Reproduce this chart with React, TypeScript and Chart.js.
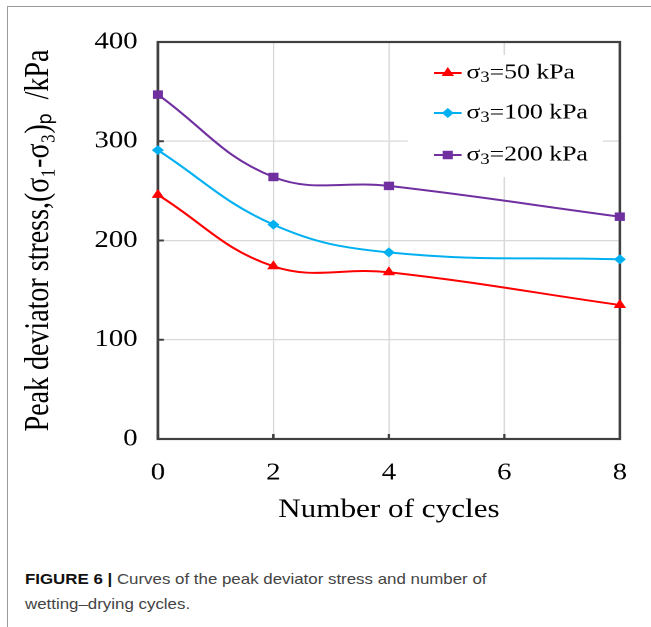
import React, { useEffect, useRef } from 'react';
import { Chart, registerables } from 'chart.js';

Chart.register(...registerables);

// ---- data ----
const cycles = [0, 2, 4, 8];
const confiningPressures = [50, 100, 200];
const stress50 = [246, 174, 168, 135];
const stress100 = [291, 216, 188, 181];
const stress200 = [347, 264, 255, 224];
const xTickValues = [0, 2, 4, 6, 8];
const yTickValues = [0, 100, 200, 300, 400];
const xTitle = 'Number of cycles';
const yTitle = 'Peak deviator stress,(σ₁-σ₃)ₚ  /kPa';
const captionBold = 'FIGURE 6 |';
const captionText = ' Curves of the peak deviator stress and number of wetting–drying cycles.';

// ---- styles ----
const seriesColors = ['#FF0000', '#00B0F0', '#7030A0'];
const seriesPointStyles = ['triangle', 'rectRot', 'rect'];
const seriesPointRadius = [6, 5, 6];
const SERIF = "'Liberation Serif', 'Times New Roman', serif";
const PAGE_W = 651;
const LOGICAL_W = 543;
const SX = PAGE_W / LOGICAL_W;
const CANVAS_H = 545;

const seriesValues = [stress50, stress100, stress200];

function drawMarker(ctx: CanvasRenderingContext2D, style: string, x: number, y: number, r: number, color: string) {
  ctx.save();
  ctx.fillStyle = color;
  ctx.beginPath();
  if (style === 'triangle') {
    ctx.moveTo(x, y - r);
    ctx.lineTo(x + r * 0.866, y + r * 0.5);
    ctx.lineTo(x - r * 0.866, y + r * 0.5);
    ctx.closePath();
  } else if (style === 'rectRot') {
    ctx.moveTo(x, y - r);
    ctx.lineTo(x + r, y);
    ctx.lineTo(x, y + r);
    ctx.lineTo(x - r, y);
    ctx.closePath();
  } else {
    const s = r * Math.SQRT1_2;
    ctx.rect(x - s, y - s, 2 * s, 2 * s);
  }
  ctx.fill();
  ctx.restore();
}

const framePlugin = {
  id: 'frame',
  beforeDatasetsDraw(chart: any) {
    const { ctx, chartArea } = chart;
    const { left, right, top, bottom } = chartArea;
    ctx.save();
    ctx.strokeStyle = '#404040';
    ctx.lineWidth = 2.2;
    ctx.strokeRect(left, top, right - left, bottom - top);
    ctx.lineWidth = 2;
    const ys = chart.scales.y;
    const xs = chart.scales.x;
    yTickValues.forEach((v) => {
      const py = ys.getPixelForValue(v);
      ctx.beginPath();
      ctx.moveTo(left, py);
      ctx.lineTo(left + 5, py);
      ctx.stroke();
    });
    xTickValues.forEach((v) => {
      const px = xs.getPixelForValue(v);
      ctx.beginPath();
      ctx.moveTo(px, bottom);
      ctx.lineTo(px, bottom - 5);
      ctx.stroke();
    });
    ctx.restore();
  },
};

const legendPlugin = {
  id: 'insideLegend',
  afterDraw(chart: any) {
    const { ctx } = chart;
    ctx.save();
    ctx.fillStyle = '#ffffff';
    ctx.fillRect(340, 55, 163, 122);
    const rowYs = [73, 113, 155];
    chart.data.datasets.forEach((ds: any, i: number) => {
      const y = rowYs[i];
      const color = seriesColors[i];
      ctx.strokeStyle = color;
      ctx.lineWidth = 2;
      ctx.beginPath();
      ctx.moveTo(362, y);
      ctx.lineTo(385, y);
      ctx.stroke();
      drawMarker(ctx, seriesPointStyles[i], 373.5, y, seriesPointRadius[i], color);
      ctx.fillStyle = '#000';
      ctx.textBaseline = 'middle';
      ctx.textAlign = 'left';
      let x = 389;
      ctx.font = `21.5px ${SERIF}`;
      ctx.fillText('σ', x, y);
      x += ctx.measureText('σ').width;
      ctx.font = `15.5px ${SERIF}`;
      ctx.fillText('3', x, y + 5);
      x += ctx.measureText('3').width;
      ctx.font = `21.5px ${SERIF}`;
      ctx.fillText(`=${confiningPressures[i]} kPa`, x, y);
    });
    ctx.restore();
  },
};

export default function App() {
  const canvasRef = useRef<HTMLCanvasElement | null>(null);

  useEffect(() => {
    const canvas = canvasRef.current;
    if (!canvas) return;
    const chart = new Chart(canvas, {
      type: 'line',
      data: {
        datasets: confiningPressures.map((p, i) => ({
          label: `σ₃=${p} kPa`,
          data: cycles.map((c, j) => ({ x: c, y: seriesValues[i][j] })),
          borderColor: seriesColors[i],
          backgroundColor: seriesColors[i],
          pointBackgroundColor: seriesColors[i],
          pointBorderColor: seriesColors[i],
          pointBorderWidth: 0,
          pointStyle: seriesPointStyles[i] as any,
          pointRadius: seriesPointRadius[i],
          borderWidth: 2,
          tension: 0.4,
          fill: false,
          clip: false as any,
        })),
      },
      options: {
        responsive: false,
        animation: false,
        devicePixelRatio: 2,
        layout: { padding: { top: 42, right: LOGICAL_W - 523.3, left: 0, bottom: 0 } },
        plugins: {
          legend: { display: false },
          tooltip: { enabled: false },
        },
        scales: {
          x: {
            type: 'linear',
            min: 0,
            max: 8,
            afterBuildTicks: (s: any) => {
              s.ticks = xTickValues.map((v) => ({ value: v }));
            },
            afterFit: (s: any) => {
              s.height = CANVAS_H - 439;
            },
            ticks: {
              font: { family: SERIF, size: 24 },
              color: '#000',
              padding: 20,
              maxRotation: 0,
            },
            grid: { color: '#D9D9D9', lineWidth: 1.2, drawTicks: false },
            border: { display: false },
            title: {
              display: true,
              text: xTitle,
              font: { family: SERIF, size: 26 },
              color: '#000',
              padding: { top: 0, bottom: 19 },
            },
          },
          y: {
            type: 'linear',
            min: 0,
            max: 400,
            afterBuildTicks: (s: any) => {
              s.ticks = yTickValues.map((v) => ({ value: v }));
            },
            afterFit: (s: any) => {
              s.width = 131.7;
            },
            ticks: {
              font: { family: SERIF, size: 24 },
              color: '#000',
              padding: 17,
            },
            grid: { color: '#D9D9D9', lineWidth: 1.2, drawTicks: false },
            border: { display: false },
            title: {
              display: true,
              text: yTitle,
              font: { family: SERIF, size: 28 },
              color: '#000',
              padding: { top: 16, bottom: 0 },
            },
          },
        },
      },
      plugins: [framePlugin, legendPlugin],
    });
    return () => chart.destroy();
  }, []);

  return (
    <div
      style={{
        position: 'fixed',
        left: 0,
        top: 0,
        width: PAGE_W,
        height: 627,
        background: '#fff',
        overflow: 'hidden',
      }}
    >
      <div
        style={{
          position: 'absolute',
          left: 7,
          top: 6,
          width: 700,
          height: 700,
          borderLeft: '1px solid #9a9a9a',
          borderTop: '1px solid #9a9a9a',
        }}
      />
      <div
        style={{
          position: 'absolute',
          left: 0,
          top: 0,
          width: LOGICAL_W,
          height: CANVAS_H,
          transform: `scaleX(${SX})`,
          transformOrigin: '0 0',
        }}
      >
        <canvas ref={canvasRef} width={LOGICAL_W} height={CANVAS_H} style={{ width: LOGICAL_W, height: CANVAS_H }} />
      </div>
      <div
        style={{
          position: 'absolute',
          left: 25,
          top: 566,
          width: 415,
          fontFamily: "'Liberation Sans', Arial, sans-serif",
          fontSize: 15,
          lineHeight: '25px',
          color: '#444',
          transform: 'scaleX(1.125)',
          transformOrigin: '0 0',
        }}
      >
        <span style={{ fontWeight: 'bold', color: '#111' }}>{captionBold}</span>
        {captionText}
      </div>
    </div>
  );
}
